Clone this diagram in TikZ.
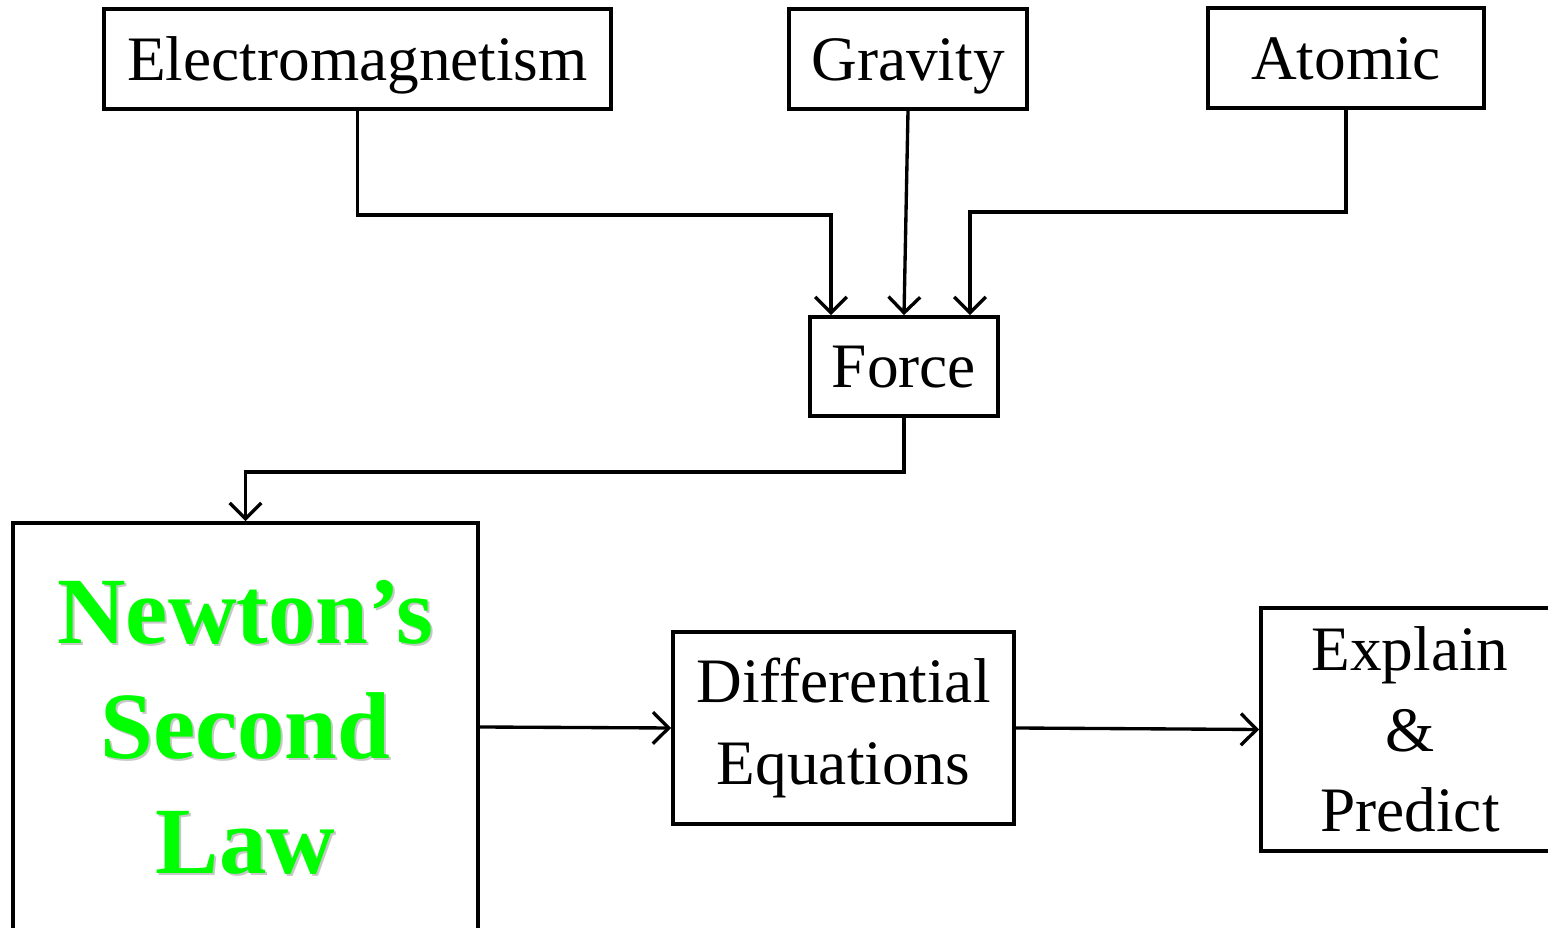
\documentclass[tikz,border=0pt]{standalone}
\usepackage{fontspec}
\setmainfont{Liberation Serif}
\usetikzlibrary{arrows.meta}
\definecolor{lawgreen}{RGB}{0,255,0}
\begin{document}
\begin{tikzpicture}[x=0.01cm, y=-0.01cm, >={Straight Barb[length=4.5pt,width=9pt]},
    box/.style={draw, line width=1.05pt, inner sep=0pt, align=center, font=\fontsize{18}{23.5}\selectfont},
    onebox/.style={box, text height=16.5pt, text depth=4.5pt},
    lawtext/.style={align=center, font=\fontsize{27}{32.7}\selectfont\bfseries},
    link/.style={->, line width=0.95pt}]
    \useasboundingbox (0,0) rectangle (1548,928);
    \clip (0,0) rectangle (1548,928);
    % sources of force
    \node[onebox, minimum width=5.07cm, minimum height=1cm] (em) at (357.5,59) {Electromagnetism};
    \node[onebox, minimum width=2.38cm, minimum height=1cm] (grav) at (908,59) {Gravity};
    \node[onebox, minimum width=2.76cm, minimum height=1cm] (atom) at (1346,58) {Atomic};
    \node[onebox, minimum width=1.88cm, minimum height=0.99cm] (force) at (904,366.5) {Force};
    % second row
    \node[lawtext, text=black!22] (lawshadow) at (247.5,729.5) {Newton’s\\Second\\Law};
    \node[box, lawtext, text=lawgreen, minimum width=4.65cm, minimum height=4.08cm] (newton) at (245.5,727) {Newton’s\\Second\\Law};
    \node[box, minimum width=3.41cm, minimum height=1.92cm] (diff) at (843.5,728) {Differential\\Equations};
    \node[box, font=\fontsize{18}{22.8}\selectfont, minimum width=2.98cm, minimum height=2.43cm] (expl) at (1410,729.5) {Explain\\\&\\Predict};
    % connectors
    \draw[link] (em.south) -- ++(0,104) -| ([xshift=-0.73cm]force.north);
    \draw[link] (grav.south) -- (force.north);
    \draw[link] (atom.south) -- ++(0,102) -| ([xshift=0.66cm]force.north);
    \draw[link] (force.south) -- ++(0,54) -| (newton.north);
    \draw[link] (newton.east) -- (diff.west);
    \draw[link] (diff.east) -- (expl.west);
\end{tikzpicture}
\end{document}
